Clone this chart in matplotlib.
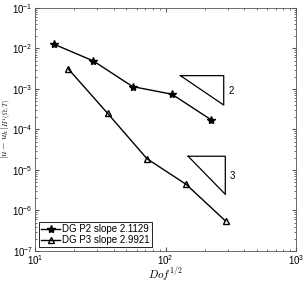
import numpy as np
import matplotlib.pyplot as plt

plt.rcParams['font.family'] = ['Liberation Sans', 'DejaVu Sans']
plt.rcParams['mathtext.fontset'] = 'cm'

# Daten
dof_p2 = [14, 28, 56, 112, 224]
err_p2 = [1.27e-2, 4.9e-3, 1.14e-3, 7.4e-4, 1.72e-4]
dof_p3 = [18, 36, 72, 144, 288]
err_p3 = [3.12e-3, 2.5e-4, 1.9e-5, 4.4e-6, 5.5e-7]

# Steigungsdreiecke
tri2_x = [130, 279, 279, 130]
tri2_y = [2.13e-3, 2.13e-3, 4.0e-4, 2.13e-3]
tri3_x = [149, 287, 287, 149]
tri3_y = [2.18e-5, 2.18e-5, 2.5e-6, 2.18e-5]

fig = plt.figure(figsize=(3.04, 2.82), dpi=100)
ax = fig.add_axes([0.115, 0.110, 0.859, 0.862])

ax.loglog(dof_p2, err_p2, color="black", lw=1, marker="*", ms=6, label="DG P2 slope 2.1129")
ax.loglog(dof_p3, err_p3, color="black", lw=1, marker="^", ms=5, mfc="none", label="DG P3 slope 2.9921")
ax.plot(tri2_x, tri2_y, color="black", lw=0.9)
ax.plot(tri3_x, tri3_y, color="black", lw=0.9)
ax.text(305, 9.0e-4, "2", fontsize=7, va="center")
ax.text(312, 7.0e-6, "3", fontsize=7, va="center")

ax.set_xlim(10, 1000)
ax.set_ylim(1e-7, 1e-1)
ax.set_xlabel(r"$Dof^{1/2}$", fontsize=8)
ax.set_ylabel(r"$|u-u_h|_{H^1(\Omega;T)}$", fontsize=7)
ax.xaxis.set_label_coords(0.5, -0.058)
ax.yaxis.set_label_coords(-0.082, 0.5)

ax.tick_params(which="both", direction="in", top=True, right=True, labelsize=7,
               colors="#555555", labelcolor="black", pad=1.5)
ax.tick_params(which="major", length=3)
ax.tick_params(which="minor", length=1.5)
for s in ax.spines.values():
    s.set_color("#555555")
    s.set_linewidth(0.6)

leg = ax.legend(loc="lower left", fontsize=7, fancybox=False, framealpha=1, edgecolor="black",
                handlelength=2, borderpad=0.2, labelspacing=0.1, handletextpad=0.2, borderaxespad=0.4)
leg.get_frame().set_linewidth(0.6)

fig.savefig("out.png", dpi=100)
